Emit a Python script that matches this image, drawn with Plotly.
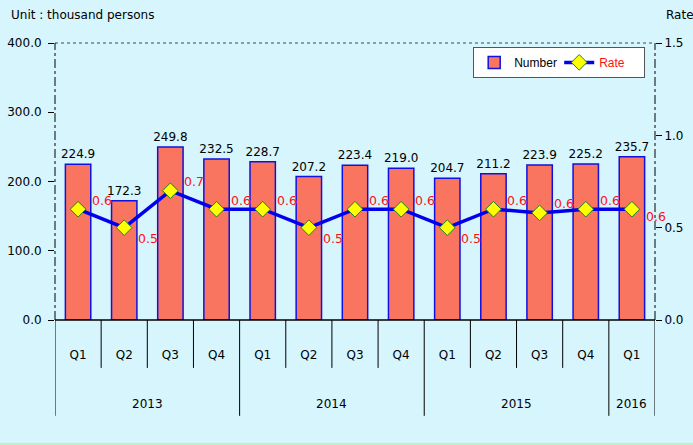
import plotly.graph_objects as go

years = ["2013", "2014", "2015", "2016"]
year_counts = [4, 4, 4, 1]
quarters = ["Q1", "Q2", "Q3", "Q4", "Q1", "Q2", "Q3", "Q4", "Q1", "Q2", "Q3", "Q4", "Q1"]
numbers = [224.9, 172.3, 249.8, 232.5, 228.7, 207.2, 223.4, 219.0, 204.7, 211.2, 223.9, 225.2, 235.7]
rates = [0.6, 0.5, 0.7, 0.6, 0.6, 0.5, 0.6, 0.6, 0.5, 0.6, 0.58, 0.6, 0.6]

FONT = "DejaVu Sans"
BG = "#D6F5FD"
RED = "#FF1010"
xs = list(range(len(quarters)))

fig = go.Figure()
fig.add_trace(go.Bar(
    x=xs, y=numbers, name="Number",
    marker=dict(color="#FA7560", line=dict(color="#1010E0", width=1.5)),
    width=0.55,
    texttemplate="%{y:.1f}", textposition="outside", constraintext="none",
    textfont=dict(color="black", size=12, family=FONT),
    cliponaxis=False,
))
fig.add_trace(go.Scatter(
    x=xs, y=rates, yaxis="y2", name=f"<span style='color:{RED}'>Rate</span>",
    mode="lines+markers",
    line=dict(color="#0000EE", width=3.5),
    marker=dict(symbol="diamond", size=12, color="#FFFF00", line=dict(color="#208020", width=1)),
    cliponaxis=False,
))

shapes = [
    dict(type="line", xref="paper", yref="paper", x0=0, x1=1, y0=1, y1=1,
         line=dict(color="#444444", width=1, dash="dot")),
    dict(type="line", xref="paper", yref="paper", x0=0, x1=1, y0=0, y1=0,
         line=dict(color="black", width=1.5)),
    dict(type="line", xref="paper", yref="paper", x0=0, x1=0, y0=0, y1=1,
         line=dict(color="black", width=1, dash="dashdot")),
    dict(type="line", xref="paper", yref="paper", x0=1, x1=1, y0=0, y1=1,
         line=dict(color="black", width=1, dash="dashdot")),
    dict(type="line", xref="paper", yref="paper", x0=-0.1, x1=1.07, y0=-0.4477, y1=-0.4477,
         line=dict(color="#BFF0BF", width=2)),
]
annotations = [
    dict(text="Unit : thousand persons", xref="paper", yref="paper", x=-0.077, y=1.101,
         xanchor="left", yanchor="middle", showarrow=False, font=dict(size=12)),
    dict(text="Rate", xref="paper", yref="paper", x=1.015, y=1.101,
         xanchor="left", yanchor="middle", showarrow=False, font=dict(size=12)),
]
# rate value labels
for i, r in enumerate(rates):
    if i == len(rates) - 1:
        ys = -7
    else:
        ys = 9 if r >= 0.55 else -11
    annotations.append(dict(text=f"{r:.1f}", x=i, y=r, xref="x", yref="y2",
                            xanchor="left", yanchor="middle", xshift=12, yshift=ys,
                            showarrow=False, font=dict(size=12.5, color=RED)))
# category separators and year labels
year_bounds = set()
pos = -0.5
for y, c in zip(years, year_counts):
    year_bounds.add(pos)
    annotations.append(dict(text=y, xref="x", yref="paper", x=pos + c / 2, y=-0.303,
                            xanchor="center", yanchor="middle", showarrow=False,
                            font=dict(size=12)))
    pos += c
year_bounds.add(pos)
for i in range(len(quarters) + 1):
    b = i - 0.5
    y1 = -0.346 if b in year_bounds else -0.173
    shapes.append(dict(type="line", xref="x", yref="paper", x0=b, x1=b, y0=0, y1=y1,
                       line=dict(color="black", width=1)))

fig.update_layout(
    width=693, height=445,
    margin=dict(l=55, r=38, t=43, b=125, autoexpand=False),
    paper_bgcolor=BG, plot_bgcolor=BG,
    font=dict(family=FONT, size=12, color="black"),
    showlegend=True,
    legend=dict(orientation="h", x=0.697, y=0.986, xanchor="left", yanchor="top",
                bgcolor="white", bordercolor="#555555", borderwidth=1,
                font=dict(size=12, color="black", family="Liberation Sans"), itemwidth=30,
                entrywidth=40, entrywidthmode="pixels"),
    bargap=0.45,
    xaxis=dict(range=[-0.5, len(quarters) - 0.5], tickvals=xs, ticktext=quarters,
               showgrid=False, showline=False, zeroline=False, ticks="",
               ticklabelstandoff=26, automargin=False, fixedrange=True),
    yaxis=dict(range=[0, 400], tickvals=[0, 100, 200, 300, 400], tickformat=".1f",
               showgrid=False, zeroline=False, showline=False, automargin=False,
               ticks="outside", ticklen=6, tickcolor="black", ticklabelstandoff=4),
    yaxis2=dict(range=[0, 1.5], tickvals=[0, 0.5, 1.0, 1.5], tickformat=".1f",
                overlaying="y", side="right", showgrid=False, zeroline=False, showline=False,
                automargin=False, ticks="outside", ticklen=6, tickcolor="black"),
    shapes=shapes,
    annotations=annotations,
)
fig.write_html("out.html", config={"displayModeBar": False, "staticPlot": True},
               post_script="document.body.style.margin='0';document.body.style.background='" + BG + "';")
